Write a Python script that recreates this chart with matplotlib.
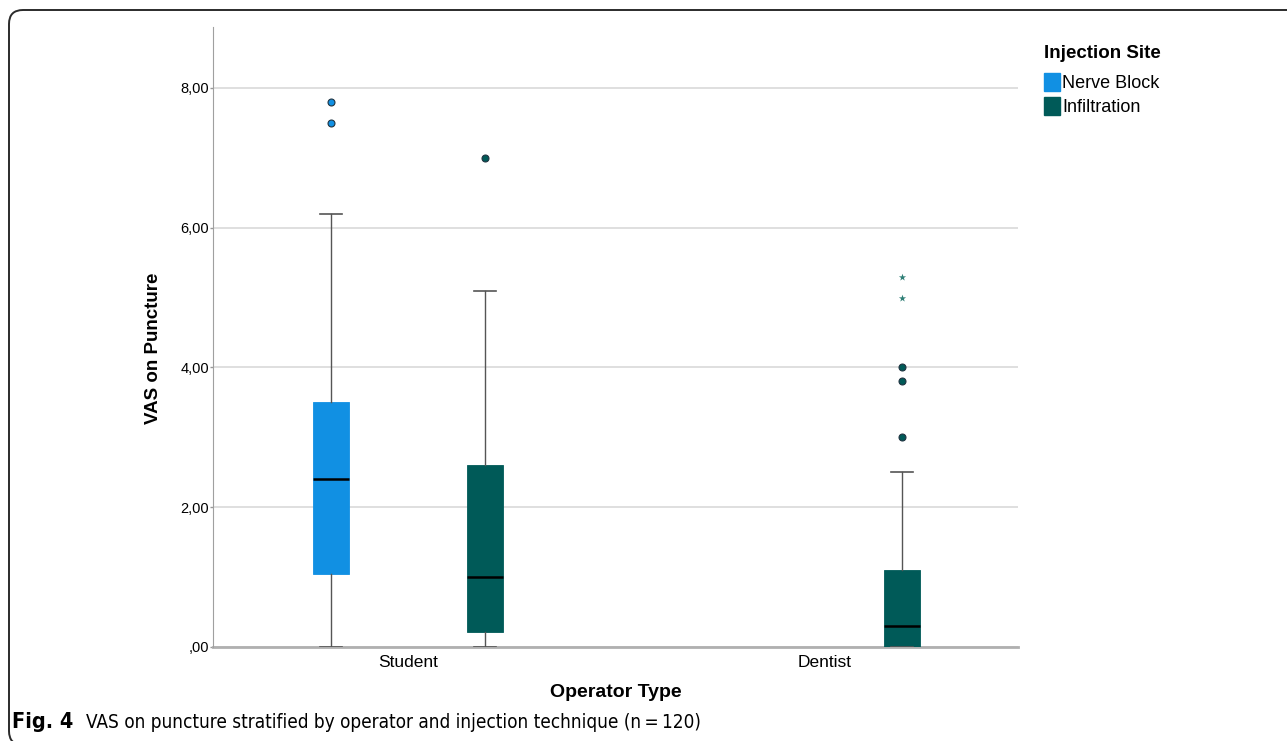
import matplotlib
matplotlib.use("Agg")
import matplotlib.pyplot as plt
from matplotlib.patches import Patch, FancyBboxPatch
from matplotlib.transforms import IdentityTransform
from matplotlib.ticker import FuncFormatter

# --- data ---
operators = ["Student", "Dentist"]
sites = ["Nerve Block", "Infiltration"]
site_colors = ["#1190e3", "#005a58"]
star_color = "#2f7f76"

# one entry per drawn box: (operator index, site index)
box_groups = [(0, 0), (0, 1), (1, 1)]
q1 = [1.05, 0.21, 0.0]
median = [2.40, 1.00, 0.30]
q3 = [3.50, 2.60, 1.10]
whisker_lo = [0.0, 0.0, 0.0]
whisker_hi = [6.20, 5.10, 2.50]
outliers = [[7.50, 7.80], [7.00], [3.00, 3.80, 4.00]]
extremes = [[], [], [5.00, 5.30]]

y_ticks = [0, 2, 4, 6, 8]

FONT = "Liberation Sans"
DPI = 100
fig = plt.figure(figsize=(12.87, 7.41), dpi=DPI)
ax = fig.add_axes([213 / 1287, 1 - 647 / 741, (1018 - 213) / 1287, (647 - 27) / 741])

offset = 0.1847
width = 0.086
stats = []
positions = []
for i, (op, site) in enumerate(box_groups):
    stats.append(dict(med=median[i], q1=q1[i], q3=q3[i],
                      whislo=whisker_lo[i], whishi=whisker_hi[i],
                      fliers=outliers[i]))
    positions.append(op + (offset if site == 1 else -offset))

parts = ax.bxp(stats, positions=positions, widths=width, patch_artist=True,
               showfliers=True, manage_ticks=False,
               medianprops=dict(color="black", linewidth=1.8),
               whiskerprops=dict(color="#555555", linewidth=1.0),
               capprops=dict(color="#555555", linewidth=1.2, zorder=3),
               capwidths=width * 0.62)
for i, box in enumerate(parts["boxes"]):
    site = box_groups[i][1]
    box.set_facecolor(site_colors[site])
    box.set_edgecolor(site_colors[site])
    box.set_linewidth(0.6)
for i, fl in enumerate(parts["fliers"]):
    site = box_groups[i][1]
    fl.set(marker="o", markersize=5, markerfacecolor=site_colors[site],
           markeredgecolor="#1f3340", markeredgewidth=0.8)
for i, vals in enumerate(extremes):
    if vals:
        ax.scatter([positions[i]] * len(vals), vals, marker="*", s=30,
                   color=star_color, linewidths=0, zorder=4)


def comma_fmt(v, pos):
    s = f"{v:.2f}".replace(".", ",")
    return s[1:] if s.startswith("0") else s


ax.set_xlim(-0.4676, 1.463)
ax.set_ylim(0, 8.87)
ax.set_xticks([0, 1])
ax.set_xticklabels(operators, fontsize=12.5, family=FONT)
ax.tick_params(axis="x", length=0, pad=6)
ax.set_yticks(y_ticks)
ax.yaxis.set_major_formatter(FuncFormatter(comma_fmt))
ax.tick_params(axis="y", length=2, width=1, color="#999999", labelsize=10.5, pad=1)
for lab in ax.get_yticklabels():
    lab.set_family(FONT)
ax.grid(axis="y", color="#d9d9d9", linewidth=1.2)
ax.set_axisbelow(True)
for s in ["top", "right"]:
    ax.spines[s].set_visible(False)
ax.spines["left"].set_color("#a0a0a0")
ax.spines["bottom"].set_color("#b0b0b0")
ax.spines["bottom"].set_linewidth(2)
ax.spines["bottom"].set_zorder(1.5)

ax.set_xlabel("Operator Type", fontsize=14, fontweight="bold", family=FONT, labelpad=10)
ax.set_ylabel("VAS on Puncture", fontsize=13.5, fontweight="bold", family=FONT)
ax.yaxis.label.set_va("center")
ax.yaxis.set_label_coords((154 - 213) / 805, (647 - 348) / 620)

handles = [Patch(facecolor=c, edgecolor=c, label=l) for c, l in zip(site_colors, sites)]
leg = fig.legend(handles=handles, title="Injection Site", loc="upper left",
                 bbox_to_anchor=(1037 / 1287, 1 - 38 / 741), frameon=False,
                 alignment="left", handlelength=0.85, handleheight=1.1,
                 handletextpad=0.15, labelspacing=0.28, borderaxespad=0,
                 prop=dict(family=FONT, size=13))
leg.get_title().set_fontproperties(dict(family=FONT, size=13.5, weight="bold"))
leg._legend_box.sep = 8

# caption and surrounding frame
cap_y = 1 - 722 / 741
fig.text(12 / 1287, cap_y, "Fig. 4", fontweight="bold", family="DejaVu Sans",
         stretch="condensed", fontsize=15.5, va="center")
fig.text(86 / 1287, cap_y,
         "VAS on puncture stratified by operator and injection technique (n\u2009=\u2009120)",
         family="DejaVu Sans", stretch="condensed", fontsize=13.6, va="center")

frame = FancyBboxPatch((9, -4), 1320, 741 - 10 + 4, boxstyle="round,pad=0,rounding_size=14",
                       transform=IdentityTransform(), fill=False,
                       edgecolor="#2b2b2b", linewidth=1.4)
fig.patches.append(frame)

fig.savefig("out.png", dpi=DPI)
